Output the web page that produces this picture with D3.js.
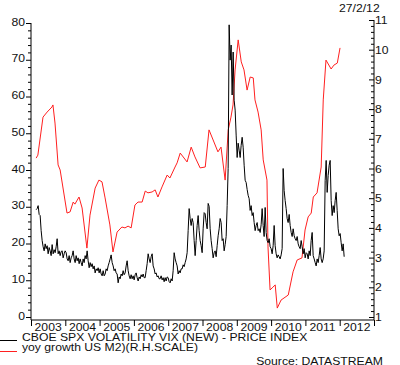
<!DOCTYPE html>
<html>
<head>
<meta charset="utf-8">
<script src="https://cdn.jsdelivr.net/npm/d3@7"></script>
<style>
  body { margin: 0; background: #fff; }
  text { font-family: "Liberation Sans", Arial, sans-serif; font-size: 10px; fill: #111; }
</style>
</head>
<body>
<div id="chart"></div>
<script>
// year tick labels
const years = [2003, 2004, 2005, 2006, 2007, 2008, 2009, 2010, 2011, 2012];

// yoy growth US M2 (right scale), decimal year / value
const m2Time = [
  2003.15, 2003.20, 2003.35, 2003.47, 2003.61, 2003.64, 2003.70, 2003.79, 2003.85,
  2004.05, 2004.14, 2004.23, 2004.28, 2004.40, 2004.49, 2004.63, 2004.72, 2004.87, 2004.98,
  2005.07, 2005.16, 2005.30, 2005.39, 2005.51, 2005.65, 2005.74, 2005.83, 2005.92,
  2006.03, 2006.12, 2006.24, 2006.33, 2006.41, 2006.53, 2006.62, 2006.70, 2006.82, 2006.97,
  2007.05, 2007.20, 2007.26, 2007.35, 2007.55, 2007.67, 2007.78, 2007.93,
  2008.08, 2008.19, 2008.31, 2008.45, 2008.54, 2008.66, 2008.75, 2008.83, 2008.89, 2008.95,
  2009.04, 2009.13, 2009.21, 2009.30, 2009.39, 2009.48, 2009.53, 2009.62, 2009.71, 2009.77, 2009.88, 2009.91, 2009.97,
  2010.03, 2010.12, 2010.18, 2010.29, 2010.50, 2010.64, 2010.76, 2010.90, 2010.99,
  2011.08, 2011.17, 2011.23, 2011.34, 2011.46, 2011.52, 2011.60, 2011.75, 2011.83, 2011.93,
  2012.01
];
const m2Growth = [
  6.35, 6.45, 7.73, 7.90, 8.07, 8.14, 7.53, 6.12, 5.95,
  4.50, 4.54, 4.87, 4.80, 5.04, 4.67, 3.32, 4.43, 5.34, 5.61,
  5.55, 5.01, 4.10, 3.19, 3.86, 4.03, 4.00, 4.06, 4.00,
  4.77, 4.87, 4.87, 5.24, 5.18, 5.21, 5.28, 5.04, 5.38, 5.78,
  5.68, 6.05, 6.19, 6.52, 6.22, 6.72, 6.39, 6.02,
  6.05, 7.30, 6.96, 6.56, 6.72, 5.61, 7.30, 7.73, 8.14, 9.32,
  10.33, 9.59, 9.32, 8.64, 9.08, 9.05, 8.31, 7.90, 7.30, 6.29, 5.61, 3.36, 1.91,
  1.98, 2.08, 1.30, 1.57, 1.74, 2.52, 2.92, 2.99, 3.93,
  4.37, 4.50, 5.04, 5.18, 6.05, 8.31, 9.65, 9.35, 9.48, 9.55,
  10.06
];

// CBOE SPX volatility VIX, evenly spaced readings from vixStart to vixEnd
const vixStart = 2003.15;
const vixEnd = 2012.13;
const vixValues = [
  29.2, 29.5, 30.3, 27.9, 27.6, 23.5, 20.8, 19.1, 18.0, 19.9,
  18.6, 19.4, 17.2, 18.9, 18.0, 16.7, 19.7, 17.2, 18.3, 17.5,
  19.1, 21.3, 17.2, 18.0, 16.7, 17.8, 18.0, 16.1, 17.2, 18.0,
  17.5, 15.8, 15.3, 16.7, 14.8, 16.1, 16.7, 18.0, 15.8, 14.8,
  16.7, 15.3, 16.1, 14.5, 15.8, 14.8, 13.9, 15.8, 14.8, 16.7,
  15.8, 18.0, 15.3, 13.4, 14.8, 13.7, 14.5, 13.1, 13.9, 12.0,
  13.1, 12.6, 13.4, 12.0, 13.1, 11.7, 11.2, 12.6, 11.2, 11.7,
  13.1, 12.6, 13.9, 14.8, 15.8, 16.9, 14.8, 13.9, 12.6, 13.1,
  12.0, 11.7, 9.3, 10.9, 10.4, 11.7, 11.2, 12.6, 11.5, 12.0,
  13.9, 15.3, 12.6, 11.2, 10.4, 11.5, 10.4, 11.2, 10.1, 11.5,
  12.0, 10.7, 9.8, 10.9, 10.4, 11.5, 10.9, 11.7, 10.7, 10.7,
  12.6, 14.5, 17.2, 15.8, 14.8, 16.4, 17.2, 13.9, 13.1, 11.7,
  12.0, 10.9, 11.2, 10.4, 10.4, 11.2, 10.1, 10.7, 9.6, 10.7,
  9.8, 10.9, 10.7, 9.6, 9.3, 10.4, 9.8, 12.6, 17.5, 15.8,
  14.8, 13.9, 11.7, 12.6, 12.0, 13.1, 13.1, 14.2, 13.7, 14.8,
  15.8, 17.5, 23.5, 29.5, 26.8, 24.9, 26.8, 25.7, 20.8, 16.7,
  20.8, 24.9, 27.6, 23.5, 20.8, 19.4, 17.5, 24.0, 28.4, 28.1,
  25.7, 24.0, 30.9, 30.1, 24.0, 20.8, 18.6, 16.1, 17.5, 18.0,
  16.4, 19.4, 22.1, 24.0, 26.8, 25.7, 20.8, 21.3, 18.0, 19.7,
  21.9, 30.3, 40.4, 79.5, 69.9, 74.0, 60.4, 72.1, 59.0, 56.3,
  49.5, 43.4, 47.3, 45.4, 43.4, 46.7, 48.9, 46.2, 41.3, 37.2,
  36.6, 34.7, 33.1, 32.2, 29.0, 30.3, 27.6, 28.4, 25.7, 23.5,
  24.9, 25.7, 23.5, 24.0, 23.0, 25.1, 29.5, 24.9, 21.9, 29.8,
  23.0, 20.8, 20.2, 21.3, 19.1, 18.6, 17.2, 19.4, 24.9, 19.4,
  17.2, 16.1, 16.9, 16.4, 15.8, 16.9, 18.6, 40.4, 34.4, 31.7,
  29.5, 26.8, 25.7, 27.9, 24.9, 23.0, 21.9, 24.0, 22.1, 21.3,
  20.8, 21.9, 19.9, 19.1, 18.6, 20.8, 19.1, 17.2, 18.6, 16.1,
  17.5, 17.2, 15.8, 18.0, 16.7, 20.8, 23.0, 16.7, 15.8, 14.8,
  13.9, 15.8, 14.8, 16.7, 18.9, 15.8, 14.8, 15.8, 18.0, 37.2,
  42.6, 33.9, 38.5, 41.3, 42.6, 31.7, 27.6, 30.3, 28.4, 31.7,
  33.9, 29.0, 24.0, 22.1, 22.7, 20.2, 18.0, 19.9, 16.4
];

const legendLabels = [
  "CBOE SPX VOLATILITY VIX (NEW) - PRICE INDEX",
  "yoy growth US M2)(R.H.SCALE)"
];

const width = 400;
const height = 365;
const plot = { left: 31, right: 374, bottom: 320 };
const sx = 1.22; // the source text is drawn wide

const svg = d3.select("#chart")
  .append("svg")
  .attr("width", width)
  .attr("height", height);

const x = d3.scaleLinear().domain([2003, 2013]).range([plot.left, plot.right]);
const yL = d3.scaleLinear().domain([0, 80]).range([317, 23]);
const yR = d3.scaleLinear().domain([1, 11]).range([317, 20]);

function wideText(g, tx, ty, str, anchor) {
  return g.append("text")
    .attr("transform", `translate(${tx},${ty}) scale(${sx},1)`)
    .attr("text-anchor", anchor || "start")
    .text(str);
}

// axis lines
svg.append("line").attr("x1", plot.left).attr("x2", plot.left)
  .attr("y1", yL(80)).attr("y2", plot.bottom).attr("stroke", "#000");
svg.append("line").attr("x1", plot.right).attr("x2", plot.right)
  .attr("y1", yR(11)).attr("y2", plot.bottom).attr("stroke", "#000");
svg.append("line").attr("x1", plot.left).attr("x2", plot.right)
  .attr("y1", plot.bottom).attr("y2", plot.bottom).attr("stroke", "#000");

// left axis
const leftAxis = svg.append("g")
  .attr("transform", `translate(${plot.left},0)`)
  .call(d3.axisLeft(yL)
    .tickValues(d3.range(0, 81, 2))
    .tickSize(3)
    .tickSizeOuter(0)
    .tickFormat(d => (d % 10 === 0 ? d : "")));
leftAxis.select(".domain").remove();
leftAxis.selectAll(".tick line").attr("x2", d => (d % 10 === 0 ? -5 : -3));
leftAxis.selectAll(".tick text")
  .attr("x", null).attr("dy", null)
  .attr("transform", `translate(-6,2) scale(${sx},1)`)
  .style("font-family", null).style("font-size", null)
  .attr("font-family", null).attr("font-size", null);

// right axis, ticks pointing inward
const rightAxis = svg.append("g")
  .attr("transform", `translate(${plot.right},0)`)
  .call(d3.axisRight(yR)
    .tickValues(d3.range(10, 111, 2).map(d => d / 10))
    .tickSize(-3)
    .tickSizeOuter(0)
    .tickFormat(d => (Math.abs(d - Math.round(d)) < 1e-6 ? Math.round(d) : "")));
rightAxis.select(".domain").remove();
rightAxis.selectAll(".tick line")
  .attr("x2", d => (Math.abs(d - Math.round(d)) < 1e-6 ? -5 : -3));
rightAxis.selectAll(".tick text")
  .attr("x", null).attr("dy", null)
  .attr("transform", `translate(1,3.6) scale(${sx},1)`);
svg.selectAll(".tick text").attr("font-family", null).attr("font-size", null).attr("fill", "#111");
svg.selectAll(".tick line").attr("stroke", "#000");

// bottom axis: year boundaries, labels mid-year
const bottomAxis = svg.append("g")
  .attr("transform", `translate(0,${plot.bottom})`)
  .call(d3.axisBottom(x)
    .tickValues(d3.range(2003, 2014))
    .tickSize(6)
    .tickSizeOuter(0)
    .tickFormat(""));
bottomAxis.select(".domain").remove();
bottomAxis.selectAll(".tick line").attr("stroke", "#000");

years.forEach(yr => {
  wideText(svg, x(yr + 0.5), 331, yr, "middle");
});

// lines
const vixStep = (vixEnd - vixStart) / (vixValues.length - 1);
const vixLine = d3.line()
  .x((d, i) => x(vixStart + i * vixStep))
  .y(d => yL(d));

const m2Line = d3.line()
  .x((d, i) => x(m2Time[i]))
  .y(d => yR(d));

svg.append("path")
  .datum(m2Growth)
  .attr("fill", "none")
  .attr("stroke", "#ff2020")
  .attr("stroke-width", 1)
  .attr("d", m2Line);

svg.append("path")
  .datum(vixValues)
  .attr("fill", "none")
  .attr("stroke", "#000")
  .attr("stroke-width", 1)
  .attr("d", vixLine);

// header date
wideText(svg, 339, 11.5, "27/2/12");

// legend
const legendColors = ["#000", "#ff2020"];
const legendY = [340.5, 351.5];
legendLabels.forEach((label, i) => {
  svg.append("line")
    .attr("x1", 0).attr("x2", 17)
    .attr("y1", legendY[i]).attr("y2", legendY[i])
    .attr("stroke", legendColors[i]);
  wideText(svg, 22, 340.5 + i * 10, label);
});

wideText(svg, 383, 364.5, "Source: DATASTREAM", "end");
</script>
</body>
</html>
